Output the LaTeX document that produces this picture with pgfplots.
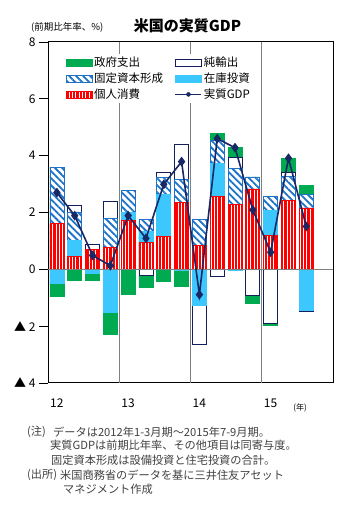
\documentclass[border=0pt]{standalone}
\usepackage{fontspec}
\setmainfont{Noto Sans CJK JP}
\usepackage{pgfplots}
\pgfplotsset{compat=1.18}
\usepackage{pgfplotstable}
\usetikzlibrary{patterns,patterns.meta}

\definecolor{consred}{RGB}{255,0,0}
\definecolor{invblue}{RGB}{60,200,255}
\definecolor{hatchblue}{RGB}{30,115,200}
\definecolor{netnavy}{RGB}{20,30,90}
\definecolor{govgreen}{RGB}{0,170,80}
\definecolor{gdpnavy}{RGB}{25,40,100}
\definecolor{notegray}{RGB}{64,64,64}

% components: contributions (percentage points), gdp: q/q annualised %
\pgfplotstableread{
q cons inv fixed net gov gdp
0 1.60 -0.51 2.00 0.00 -0.45 2.70
1 0.44 0.59 0.99 0.23 -0.40 1.89
2 0.69 -0.16 0.00 0.19 -0.24 0.49
3 0.76 -1.53 1.03 0.61 -0.76 0.13
4 1.73 0.27 0.77 0.00 -0.89 1.89
5 0.96 0.37 0.43 -0.22 -0.42 1.09
6 1.16 1.47 0.60 0.18 -0.43 2.99
7 2.34 -0.04 0.81 1.24 -0.56 3.79
8 0.83 -1.27 0.94 -1.38 0.00 -0.89
9 2.57 1.16 0.82 -0.25 0.23 4.60
10 2.29 -0.05 1.25 0.41 0.34 4.28
11 2.83 0.00 0.42 -0.90 -0.29 2.09
12 1.18 0.90 0.47 -1.92 -0.06 0.60
13 2.41 0.00 0.85 0.16 0.47 3.91
14 2.16 -1.43 0.48 -0.06 0.32 1.51
}\gdpdata

% positive and negative stacks (cumulative tops)
\pgfplotstablecreatecol[create col/expr={max(\thisrow{cons},0)}]{pa}\gdpdata
\pgfplotstablecreatecol[create col/expr={\thisrow{pa}+max(\thisrow{inv},0)}]{pb}\gdpdata
\pgfplotstablecreatecol[create col/expr={\thisrow{pb}+max(\thisrow{fixed},0)}]{pc}\gdpdata
\pgfplotstablecreatecol[create col/expr={\thisrow{pc}+max(\thisrow{net},0)}]{pd}\gdpdata
\pgfplotstablecreatecol[create col/expr={\thisrow{pd}+max(\thisrow{gov},0)}]{pe}\gdpdata
\pgfplotstablecreatecol[create col/expr={min(\thisrow{cons},0)+min(\thisrow{inv},0)}]{nb}\gdpdata
\pgfplotstablecreatecol[create col/expr={\thisrow{nb}+min(\thisrow{fixed},0)}]{nc}\gdpdata
\pgfplotstablecreatecol[create col/expr={\thisrow{nc}+min(\thisrow{net},0)}]{nd}\gdpdata
\pgfplotstablecreatecol[create col/expr={\thisrow{nd}+min(\thisrow{gov},0)}]{ne}\gdpdata

\pgfplotsset{
  barbase/.style={ybar, bar width=14pt, bar shift=0pt, line width=0.8pt, forget plot},
  govstyle/.style={fill=govgreen, draw=govgreen},
  netstyle/.style={fill=white, draw=netnavy},
  fixstyle/.style={preaction={fill=white}, pattern={Lines[angle=-45,distance=5pt,line width=1.8pt]}, pattern color=hatchblue, draw=hatchblue},
  invstyle/.style={fill=invblue, draw=invblue},
  consstyle/.style={preaction={fill=consred}, pattern={Lines[angle=90,distance=3.3pt,line width=0.9pt]}, pattern color=white, draw=consred},
  gdpstyle/.style={gdpnavy, line width=1.6pt, mark=diamond*, mark size=3.6pt, mark options={solid, fill=gdpnavy, draw=gdpnavy}},
  barleg/.style={legend image code/.code={\draw[##1, line width=0.8pt] (0pt,-3.5pt) rectangle (26pt,3.5pt);}},
  lineleg/.style={legend image code/.code={\draw[##1, line width=1.6pt] (0pt,0pt) -- (26pt,0pt); \fill[gdpnavy] (13pt,0pt) circle (2pt);}},
}

\begin{document}
\begin{tikzpicture}
\useasboundingbox (0pt,0pt) rectangle (346pt,509pt);
\begin{axis}[
  at={(48pt,126pt)}, anchor=south west,
  scale only axis, width=285pt, height=341pt,
  xmin=-0.5, xmax=15.5, ymin=-4, ymax=8,
  axis line style={black, line width=1pt},
  /pgf/number format/assume math mode=true,
  xtick={0,4,8,12}, xticklabels={12,13,14,15},
  x tick style={draw=none},
  xticklabel style={font=\fontsize{12}{14}\selectfont, yshift=-3pt},
  extra x ticks={3.5,7.5,11.5}, extra x tick labels={},
  extra x tick style={grid=major, major grid style={gray, line width=0.8pt}},
  ytick={-4,-2,0,2,4,6,8},
  yticklabels={\mbox{▲ 4},\mbox{▲ 2},0,2,4,6,8},
  ytick pos=left, tick align=outside, major tick length=9pt,
  y tick style={black, line width=0.8pt},
  yticklabel style={font=\fontsize{12}{14}\selectfont},
  legend style={at={(0.055,0.966)}, anchor=north west, draw=none, fill=white,
    font=\fontsize{11.5}{12}\selectfont, inner sep=2pt, row sep=1.6pt,
    nodes={inner sep=1.5pt},
    /tikz/every even column/.append style={column sep=10pt}},
  legend columns=2, legend cell align=left,
]
% positive stack, outermost first
\addplot[barbase, govstyle] table[x=q, y=pe] {\gdpdata};
\addplot[barbase, netstyle] table[x=q, y=pd] {\gdpdata};
\addplot[barbase, fixstyle] table[x=q, y=pc] {\gdpdata};
\addplot[barbase, invstyle] table[x=q, y=pb] {\gdpdata};
\addplot[barbase, consstyle] table[x=q, y=pa] {\gdpdata};
% negative stack, outermost first
\addplot[barbase, govstyle] table[x=q, y=ne] {\gdpdata};
\addplot[barbase, netstyle] table[x=q, y=nd] {\gdpdata};
\addplot[barbase, fixstyle] table[x=q, y=nc] {\gdpdata};
\addplot[barbase, invstyle] table[x=q, y=nb] {\gdpdata};
% zero line
\addplot[gray, line width=1pt, forget plot] coordinates {(-0.5,0) (15.5,0)};
% real GDP
\addplot[gdpstyle, forget plot] table[x=q, y=gdp] {\gdpdata};

\addlegendimage{barleg, govstyle}
\addlegendentry{政府支出}
\addlegendimage{barleg, netstyle}
\addlegendentry{純輸出}
\addlegendimage{barleg, fixstyle}
\addlegendentry{固定資本形成}
\addlegendimage{barleg, invstyle}
\addlegendentry{在庫投資}
\addlegendimage{barleg, consstyle}
\addlegendentry{個人消費}
\addlegendimage{lineleg, gdpnavy}
\addlegendentry{実質GDP}
\end{axis}

\node[font=\bfseries\fontsize{15}{16}\selectfont] at (187.5pt,483pt) {米国の実質GDP};
\node[anchor=west, inner sep=0pt, font=\fontsize{9.5}{10}\selectfont] at (31pt,481.5pt) {(前期比年率、\%)};
\node[inner sep=0pt, font=\fontsize{8}{9}\selectfont] at (300pt,101pt) {(年)};

\begin{scope}[every node/.style={anchor=west, inner sep=0pt, text=notegray, font=\fontsize{11.2}{12}\selectfont}]
\node at (27pt,77pt) {(注)};
\node at (53pt,77pt) {データは2012年1-3月期～2015年7-9月期。};
\node at (50pt,63.5pt) {実質GDPは前期比年率、その他項目は同寄与度。};
\node at (51pt,49pt) {固定資本形成は設備投資と住宅投資の合計。};
\node at (27pt,34pt) {(出所)};
\node at (60pt,34pt) {米国商務省のデータを基に三井住友アセット};
\node at (63pt,19.5pt) {マネジメント作成};
\end{scope}
\end{tikzpicture}
\end{document}
